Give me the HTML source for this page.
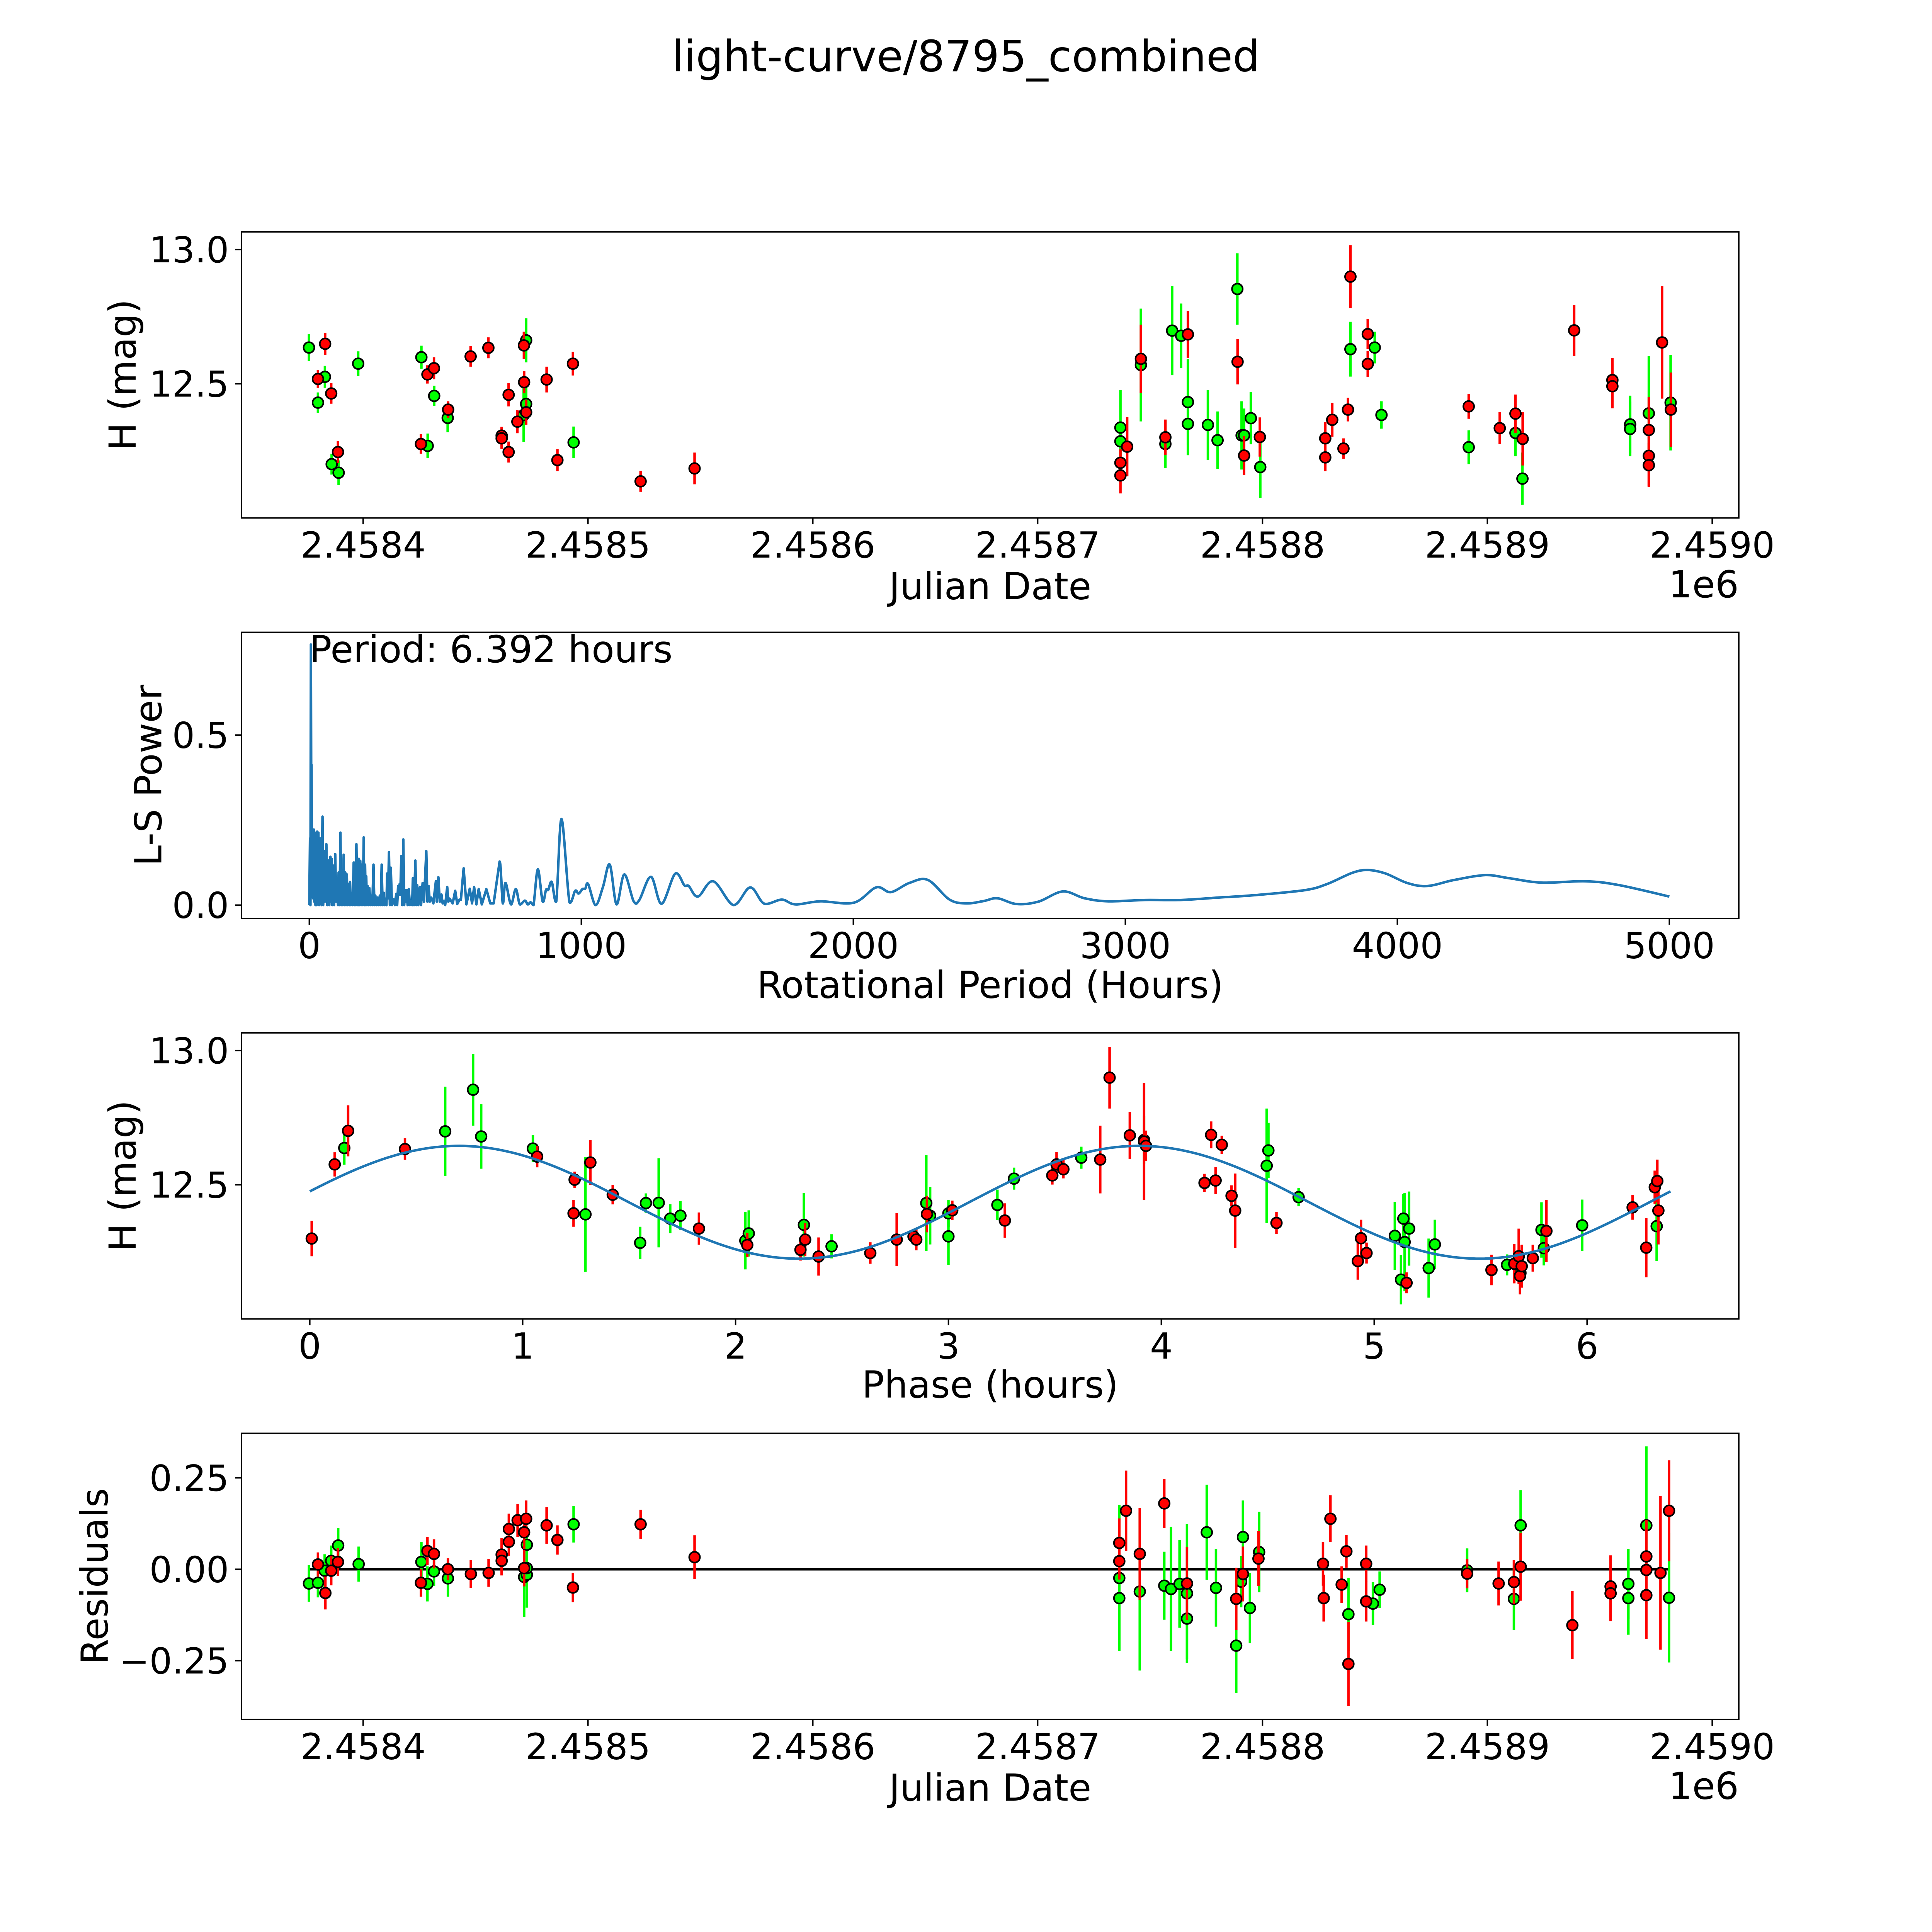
<!DOCTYPE html>
<html><head><meta charset="utf-8"><title>light-curve/8795_combined</title>
<style>html,body{margin:0;padding:0;background:#fff;overflow:hidden;width:100vw;height:100vh;}svg{display:block;width:100vw;height:100vh;}text{font-family:"DejaVu Sans","Liberation Sans",sans-serif;fill:#000;}</style>
</head><body>
<svg id="fig" xmlns="http://www.w3.org/2000/svg" viewBox="0 0 5400 5400" preserveAspectRatio="none">
<rect x="0" y="0" width="5400" height="5400" fill="#fff"/>
<text x="2700" y="199" font-size="120" text-anchor="middle">light-curve/8795_combined</text>
<g id="p1"></g>
<g id="p2"></g>
<g id="p3"></g>
<g id="p4"></g>
</svg>
<script>
// ---------- data ----------
const JD_BASE = 2458400;
// Panel 1: observations (days since JD_BASE, H mag, error)
const lcGreenDays = [-24.1,-17.0,-20.1,-2.2,-14.0,-10.9,25.9,31.6,37.6,28.7,72.5,72.5,71.4,93.6,336.8,336.8,345.9,356.8,359.8,363.8,366.8,366.8,375.7,380.0,388.8,390.7,391.8,394.8,399.0,439.1,449.9,452.9,491.7,512.5,515.6,563.5,563.5,571.8,581.5];
const lcGreenMag = [12.635,12.526,12.430,12.575,12.201,12.169,12.599,12.455,12.373,12.269,12.662,12.425,12.384,12.282,12.337,12.286,12.570,12.276,12.698,12.679,12.432,12.351,12.347,12.290,12.853,12.308,12.308,12.372,12.190,12.629,12.635,12.384,12.264,12.317,12.147,12.349,12.332,12.390,12.430];
const lcGreenErr = [0.051,0.041,0.038,0.046,0.039,0.046,0.043,0.038,0.053,0.046,0.082,0.065,0.10,0.059,0.14,0.05,0.21,0.09,0.166,0.12,0.16,0.117,0.13,0.107,0.133,0.127,0.10,0.097,0.114,0.102,0.059,0.051,0.063,0.087,0.097,0.107,0.102,0.214,0.178];
const lcRedDays = [-16.9,-20.1,-14.2,-11.2,28.6,31.5,37.8,25.7,47.8,55.7,71.5,71.6,64.7,72.5,68.6,61.6,61.6,64.7,81.6,93.3,86.4,123.4,147.4,336.8,336.8,339.8,345.9,356.8,366.8,388.9,391.8,398.8,427.9,427.9,431.0,436.0,439.1,438.0,446.8,446.8,491.7,505.5,512.5,515.7,538.6,555.6,555.6,571.8,571.8,571.8,577.7,581.6];
const lcRedMag = [12.649,12.518,12.464,12.246,12.535,12.558,12.404,12.276,12.602,12.634,12.643,12.506,12.459,12.394,12.359,12.307,12.297,12.246,12.516,12.575,12.216,12.137,12.185,12.206,12.159,12.266,12.593,12.301,12.684,12.582,12.233,12.302,12.297,12.226,12.366,12.259,12.899,12.404,12.685,12.574,12.416,12.335,12.389,12.295,12.699,12.514,12.491,12.328,12.232,12.197,12.654,12.404];
const lcRedErr = [0.041,0.033,0.038,0.041,0.034,0.041,0.031,0.036,0.038,0.039,0.051,0.041,0.043,0.046,0.043,0.033,0.039,0.039,0.048,0.044,0.041,0.039,0.059,0.05,0.067,0.11,0.127,0.066,0.087,0.084,0.073,0.073,0.061,0.051,0.063,0.038,0.117,0.044,0.056,0.049,0.046,0.059,0.071,0.099,0.095,0.082,0.082,0.122,0.112,0.082,0.209,0.138];
// Panel 2: periodogram (hours, power)
const lsPeriod = [0,2.5,4.2,5.9,7.5,8.4,10,10.9,13.4,16.7,18.4,20.1,22.6,25.1,26.8,28.5,31,33.5,36,39.3,41,42.7,45.2,48.5,51,54.4,56.9,62.8,66.1,71.1,73.6,77.8,80.3,82,84.5,87.9,91.2,95.4,98.7,102.1,105.4,107.9,111.3,114.6,117.2,120.5,123,126.4,128.9,132.2,134.7,138.1,140.6,143.9,147.3,149.8,152.3,154.8,159,163.2,165.7,168.2,170.7,173.2,175.7,177.4,179.9,182.4,184.9,187.4,190,192.5,196.7,200,202.5,205,207.5,209.2,211.7,214.2,217.6,220.9,224.3,227.6,231.8,236,239.3,242.7,246.9,251,255.2,259.4,262.8,266.1,269.4,273.6,277,280.3,283.7,286.2,289.5,292.9,296.2,299.6,303.8,309.6,314.6,319.7,323,326.4,329.7,332.2,334.7,338.1,341.4,345.6,349,351.5,354.8,358.2,361.5,365.7,369.9,374.9,378.3,380.8,385,390,393.3,396.6,400.8,406.7,410.9,416.7,421.7,430.1,434.3,438.5,442.7,448.5,456,465.3,468.6,474.5,479.5,485.8,490.4,493.7,499.6,507.1,511.3,515.5,527.2,536.4,543.9,552.3,557.3,567.4,577.4,589.9,598.3,605.9,614.2,622.6,634.3,651,665.3,677.8,699.6,711.3,721.3,741.4,759,774,792.4,803.3,813.4,824.3,840.2,857.7,870.3,878.6,891.2,907.9,927.2,956.5,977.4,990,1004.2,1014.2,1025.1,1052.7,1079.5,1104.6,1129.7,1158.1,1192.4,1213.4,1256,1295,1345,1379,1395,1429,1485,1560,1621,1673,1737,1787,1878,2002,2084,2138,2206,2274,2354,2417,2480,2530,2600,2680,2770,2850,2938,3072,3206,3340,3474,3661,3742,3835,3892,3956,4036,4110,4210,4324,4411,4531,4692,4813,5000];
const lsPower = [0,0.196,0,0.766,0.2,0.412,0.05,0.224,0.02,0.222,0.01,0.187,0,0.213,0,0.216,0.02,0.213,0,0.196,0.02,0.193,0,0.260,0,0.159,0.01,0.179,0,0.131,0,0.142,0.01,0.136,0,0.116,0,0.150,0.01,0.079,0,0.096,0,0.213,0,0.102,0,0.148,0,0.096,0,0.090,0,0.062,0,0.068,0,0.034,0,0.125,0,0.125,0,0.179,0,0.119,0,0.136,0,0.130,0,0.119,0,0.199,0,0.119,0,0.085,0,0.056,0,0.050,0,0.028,0,0.119,0,0.028,0,0.022,0,0.028,0,0.119,0,0.036,0,0.011,0,0.093,0.02,0.156,0,0.110,0,0.017,0,0.033,0,0.056,0.03,0.062,0.03,0.144,0,0.193,0,0.044,0.01,0.044,0,0.047,0,0.011,0,0.079,0,0.131,0,0.059,0,0.053,0,0.065,0.01,0.159,0.01,0.056,0.01,0.022,0.005,0.07,0.01,0.082,0.01,0.031,0.005,0.011,0,0.053,0.01,0.019,0.005,0.042,0.003,0.016,0.015,0.108,0.002,0.048,0.005,0.053,0.002,0.047,0.002,0.047,0.005,0.005,0.128,0.005,0.065,0.002,0.047,0.002,0.013,0.002,0.008,0,0.105,0.011,0.045,0.045,0.068,0.011,0.253,0.008,0.042,0.034,0.047,0.048,0.062,0,0.053,0.119,0.002,0.090,0.011,0.015,0.083,0.004,0.092,0.058,0.056,0.025,0.07,0,0.052,0.004,0.016,0.002,0.011,0.007,0.052,0.038,0.065,0.074,0.016,0.005,0.012,0.02,0.003,0.01,0.04,0.02,0.011,0.015,0.015,0.022,0.029,0.044,0.062,0.095,0.103,0.093,0.065,0.056,0.074,0.088,0.079,0.066,0.070,0.059,0.025];
const bestPeriodLabel = "Period: 6.392 hours";
// Panel 3: phase-folded (hours, mag, err)
const phGreenPhase = [0.162,0.636,0.767,0.805,1.048,1.295,1.552,1.579,1.639,1.693,1.741,2.046,2.062,2.321,2.451,2.896,2.914,3.0,3.0,3.230,3.308,3.624,3.919,4.495,4.503,4.645,5.097,5.137,5.143,5.126,5.164,5.285,5.256,5.624,5.687,5.786,5.797,5.977,6.327];
const phGreenMag = [12.637,12.699,12.854,12.680,12.635,12.390,12.284,12.432,12.433,12.374,12.385,12.292,12.319,12.351,12.271,12.432,12.385,12.394,12.308,12.425,12.523,12.601,12.667,12.571,12.628,12.454,12.310,12.374,12.287,12.147,12.337,12.278,12.190,12.202,12.172,12.332,12.264,12.349,12.346];
const phGreenErr = [0.062,0.166,0.134,0.12,0.05,0.214,0.06,0.036,0.166,0.054,0.054,0.107,0.086,0.118,0.045,0.178,0.107,0.05,0.107,0.057,0.041,0.041,0.09,0.213,0.103,0.034,0.126,0.092,0.183,0.092,0.138,0.092,0.11,0.039,0.046,0.103,0.064,0.096,0.13];
const phRedPhase = [0.009,0.117,0.180,0.447,1.068,1.244,1.318,1.239,1.423,1.828,2.055,2.305,2.327,2.390,2.633,2.757,2.836,2.849,2.899,3.018,3.265,3.488,3.508,3.540,3.713,3.757,3.852,3.919,3.928,4.203,4.234,4.255,4.284,4.330,4.347,4.541,4.923,4.938,4.964,5.152,5.551,5.658,5.679,5.685,5.693,5.745,5.809,6.214,6.278,6.318,6.330,6.335];
const phRedMag = [12.300,12.576,12.701,12.633,12.605,12.519,12.583,12.394,12.463,12.337,12.276,12.258,12.296,12.233,12.246,12.296,12.308,12.296,12.391,12.405,12.367,12.535,12.576,12.558,12.594,12.899,12.684,12.661,12.645,12.507,12.686,12.516,12.649,12.459,12.404,12.358,12.216,12.301,12.246,12.135,12.183,12.206,12.234,12.161,12.197,12.227,12.328,12.416,12.266,12.491,12.514,12.404];
const phRedErr = [0.066,0.045,0.095,0.04,0.04,0.03,0.084,0.05,0.036,0.06,0.045,0.04,0.062,0.071,0.04,0.098,0.027,0.04,0.068,0.036,0.064,0.034,0.046,0.034,0.126,0.115,0.087,0.218,0.057,0.034,0.05,0.05,0.034,0.039,0.138,0.041,0.069,0.069,0.039,0.039,0.057,0.073,0.103,0.069,0.08,0.05,0.115,0.046,0.11,0.062,0.08,0.126];
// model sinusoid parameters [mean mag, amplitude, peak phase, half period]
const modelParams = [12.435, 0.21, 0.70, 3.196];
const modelPeriod = 6.392;
// Panel 4: residuals (days since JD_BASE, residual, err)
const resGreenDays = [-24.1,-20.1,-17.1,-14.2,-11.1,-2.0,25.9,28.6,31.5,37.7,72.8,71.6,72.8,72.8,93.6,336.3,336.3,345.4,356.3,359.3,363.1,366.4,366.4,375.2,379.3,388.3,390.5,391.3,394.4,398.5,438.2,449.1,452.1,491,511.8,514.8,562.7,562.7,570.7,580.8];
const resGreenVal = [-0.039,-0.037,-0.004,0.023,0.065,0.014,0.020,-0.040,-0.006,-0.025,0.067,-0.021,-0.015,0.003,0.123,-0.024,-0.079,-0.061,-0.045,-0.054,-0.040,-0.066,-0.135,0.101,-0.051,-0.209,-0.034,0.088,-0.106,0.047,-0.123,-0.094,-0.056,-0.003,-0.081,0.120,-0.040,-0.079,0.120,-0.078];
const resGreenErr = [0.05,0.04,0.045,0.042,0.048,0.048,0.055,0.048,0.04,0.05,0.05,0.11,0.09,0.05,0.05,0.2,0.14,0.216,0.093,0.17,0.12,0.19,0.11,0.13,0.106,0.13,0.07,0.1,0.096,0.11,0.1,0.059,0.05,0.06,0.085,0.096,0.096,0.1,0.216,0.177];
const resRedDays = [-20.1,-16.8,-14.2,-11.2,25.7,28.6,31.5,37.7,47.9,55.8,61.6,61.6,64.8,64.8,68.7,72.5,71.6,71.6,86.4,81.6,93.3,123.4,147.4,336.3,336.3,339.3,345.4,356.3,366.4,388.3,391.3,398.2,426.9,427.2,430.2,435.2,437.3,438.2,446.1,446.1,491.0,505.0,511.8,514.8,537.8,554.8,554.8,570.7,570.7,570.7,577.0,580.8];
const resRedVal = [0.013,-0.065,-0.004,0.020,-0.037,0.050,0.042,0.000,-0.013,-0.010,0.040,0.023,0.110,0.075,0.134,0.138,0.101,0.003,0.08,0.12,-0.05,0.123,0.033,0.072,0.022,0.160,0.042,0.180,-0.039,-0.081,-0.013,0.029,0.015,-0.079,0.138,-0.042,0.049,-0.259,0.015,-0.088,-0.012,-0.039,-0.035,0.007,-0.153,-0.047,-0.066,0.035,-0.002,-0.071,-0.010,0.160];
const resRedErr = [0.033,0.045,0.04,0.038,0.038,0.038,0.04,0.03,0.038,0.038,0.045,0.04,0.042,0.038,0.045,0.05,0.045,0.05,0.04,0.05,0.04,0.04,0.06,0.067,0.05,0.11,0.126,0.067,0.1,0.085,0.075,0.075,0.06,0.064,0.064,0.05,0.045,0.115,0.05,0.055,0.04,0.06,0.06,0.093,0.093,0.085,0.076,0.1,0.05,0.12,0.21,0.138];
// ticks
const jdTicks = [2458400,2458500,2458600,2458700,2458800,2458900,2459000];
const jdTickLabels = ["2.4584","2.4585","2.4586","2.4587","2.4588","2.4589","2.4590"];
const magTicks = [12.5,13.0];
const magTickLabels = ["12.5","13.0"];
const periodTicks = [0,1000,2000,3000,4000,5000];
const powerTicks = [0.0,0.5];
const powerTickLabels = ["0.0","0.5"];
const phaseTicks = [0,1,2,3,4,5,6];
const resTicks = [-0.25,0,0.25];
const resTickLabels = ["\u22120.25","0.00","0.25"];

// ---------- layout ----------
const NS = "http://www.w3.org/2000/svg";
const AX_L = 675, AX_R = 4860, AX_H = 799.6;
const TOPS = [648, 1767.4, 2886.8, 4006.2];
const xJD = jd => 1015 + (jd - JD_BASE) * 6.2845;
const yMag1 = m => 697.4 + (13 - m) * 750.8;
const yMag3 = m => 697.4 + 2238.8 + (13 - m) * 750.8;
const xPer = p => 864.5 + p * 0.76028;
const yPow = w => 2529.7 - w * 950.6;
const xPh = ph => 865.9 + ph * 595;
const yRes = r => 4386.1 - r * 1022;

function mk(tag, attrs, parent){
  const el = document.createElementNS(NS, tag);
  for (const k in attrs) el.setAttribute(k, attrs[k]);
  parent.appendChild(el);
  return el;
}
function frame(g, top, name){
  const r = mk('rect', {x:AX_L, y:top, width:AX_R-AX_L, height:AX_H, fill:'none', stroke:'#000', 'stroke-width':4}, g);
  
  
}
function xTick(g, x, bottom, label, name){
  const l = mk('line', {x1:x, x2:x, y1:bottom, y2:bottom+17.5, stroke:'#000', 'stroke-width':4}, g);
  
  
  const t = mk('text', {x:x, y:bottom+111, 'font-size':100, 'text-anchor':'middle'}, g);
  t.textContent = label;
  
  
}
function yTick(g, y, label, name){
  const l = mk('line', {x1:AX_L-17.5, x2:AX_L, y1:y, y2:y, stroke:'#000', 'stroke-width':4}, g);
  
  
  const t = mk('text', {x:AX_L-35, y:y+36, 'font-size':100, 'text-anchor':'end'}, g);
  t.textContent = label;
  
  
}
function label(g, x, y, txt, name, rot, anchor){
  const t = mk('text', {x:x, y:y, 'font-size':104, 'text-anchor':anchor||'middle'}, g);
  if (rot) t.setAttribute('transform', 'rotate(-90 ' + x + ' ' + y + ')');
  t.textContent = txt;
  
  
}
function errPoints(g, xs, ys, es, fx, fy, color, name){
  const eg = mk('g', {}, g);
  
  
  for (let i = 0; i < xs.length; i++){
    const l = mk('line', {x1:fx(xs[i]), x2:fx(xs[i]), y1:fy(ys[i]-es[i]), y2:fy(ys[i]+es[i]), stroke:color, 'stroke-width':7}, eg);
    
    
  }
  const pg = mk('g', {}, g);
  
  
  for (let i = 0; i < xs.length; i++){
    const c = mk('circle', {cx:fx(xs[i]), cy:fy(ys[i]), r:15, fill:color, stroke:'#000', 'stroke-width':4.5}, pg);
    
    
  }
}
const days = arr => arr.map(d => JD_BASE + d);

// ---------- panel 1 ----------
const g1 = document.getElementById('p1');
{
  const top = TOPS[0], bottom = top + AX_H;
  jdTicks.forEach((t,i) => xTick(g1, xJD(t), bottom, jdTickLabels[i], 'lc-x'));
  magTicks.forEach((t,i) => yTick(g1, yMag1(t), magTickLabels[i], 'lc-y'));
  errPoints(g1, days(lcGreenDays), lcGreenMag, lcGreenErr, xJD, yMag1, '#00ff00', 'lc-green');
  errPoints(g1, days(lcRedDays), lcRedMag, lcRedErr, xJD, yMag1, '#ff0000', 'lc-red');
  frame(g1, top, 'lc');
  label(g1, (AX_L+AX_R)/2, bottom+227, 'Julian Date', 'lc-x-axis-title');
  label(g1, AX_R, bottom+222, '1e6', 'lc-x-offset-text', false, 'end');
  label(g1, 379, top+AX_H/2, 'H (mag)', 'lc-y-axis-title', true);
}
// ---------- panel 2 ----------
const g2 = document.getElementById('p2');
{
  const top = TOPS[1], bottom = top + AX_H;
  periodTicks.forEach(t => xTick(g2, xPer(t), bottom, String(t), 'ls-x'));
  powerTicks.forEach((t,i) => yTick(g2, yPow(t), powerTickLabels[i], 'ls-y'));
  const P = lsPeriod.map((p,i) => [xPer(p), yPow(lsPower[i])]);
  let d = 'M' + P[0][0].toFixed(1) + ' ' + P[0][1].toFixed(1);
  for (let i = 1; i < P.length; i++){
    if (lsPeriod[i-1] < 690){
      d += 'L' + P[i][0].toFixed(1) + ' ' + P[i][1].toFixed(1);
    } else {
      const p0 = P[Math.max(0,i-2)], p1 = P[i-1], p2 = P[i], p3 = P[Math.min(P.length-1,i+1)];
      const c1x = p1[0] + (p2[0]-p0[0])/6, c1y = p1[1] + (p2[1]-p0[1])/6;
      const c2x = p2[0] - (p3[0]-p1[0])/6, c2y = p2[1] - (p3[1]-p1[1])/6;
      d += 'C' + c1x.toFixed(1) + ' ' + Math.min(c1y, yPow(0)).toFixed(1) + ' ' + c2x.toFixed(1) + ' ' + Math.min(c2y, yPow(0)).toFixed(1) + ' ' + p2[0].toFixed(1) + ' ' + p2[1].toFixed(1);
    }
  }
  const p = mk('path', {d:d, fill:'none', stroke:'#1f77b4', 'stroke-width':7, 'stroke-linejoin':'round'}, g2);
  
  
  frame(g2, top, 'ls');
  label(g2, xPer(0), 1851, bestPeriodLabel, 'best-period-annotation', false, 'start');
  label(g2, (AX_L+AX_R)/2, bottom+222, 'Rotational Period (Hours)', 'ls-x-axis-title');
  label(g2, 451, top+AX_H/2, 'L-S Power', 'ls-y-axis-title', true);
}
// ---------- panel 3 ----------
const g3 = document.getElementById('p3');
{
  const top = TOPS[2], bottom = top + AX_H;
  phaseTicks.forEach(t => xTick(g3, xPh(t), bottom, String(t), 'phase-x'));
  magTicks.forEach((t,i) => yTick(g3, yMag3(t), magTickLabels[i], 'phase-y'));
  let d = '';
  const N = 300;
  for (let i = 0; i <= N; i++){
    const ph = modelPeriod * i / N;
    const m = modelParams[0] + modelParams[1] * Math.cos(2*Math.PI*(ph - modelParams[2]) / modelParams[3]);
    d += (i ? 'L' : 'M') + xPh(ph).toFixed(1) + ' ' + yMag3(m).toFixed(1);
  }
  errPoints(g3, phGreenPhase, phGreenMag, phGreenErr, xPh, yMag3, '#00ff00', 'phase-green');
  errPoints(g3, phRedPhase, phRedMag, phRedErr, xPh, yMag3, '#ff0000', 'phase-red');
  const p = mk('path', {d:d, fill:'none', stroke:'#1f77b4', 'stroke-width':7}, g3);
  
  
  frame(g3, top, 'phase');
  label(g3, (AX_L+AX_R)/2, bottom+220, 'Phase (hours)', 'phase-x-axis-title');
  label(g3, 379, top+AX_H/2, 'H (mag)', 'phase-y-axis-title', true);
}
// ---------- panel 4 ----------
const g4 = document.getElementById('p4');
{
  const top = TOPS[3], bottom = top + AX_H;
  jdTicks.forEach((t,i) => xTick(g4, xJD(t), bottom, jdTickLabels[i], 'res-x'));
  resTicks.forEach((t,i) => yTick(g4, yRes(t), resTickLabels[i], 'res-y'));
  const allDays = resGreenDays.concat(resRedDays);
  const z = mk('line', {x1:xJD(JD_BASE+Math.min(...allDays)), x2:xJD(JD_BASE+Math.max(...allDays)), y1:yRes(0), y2:yRes(0), stroke:'#000', 'stroke-width':7}, g4);
  
  
  errPoints(g4, days(resGreenDays), resGreenVal, resGreenErr, xJD, yRes, '#00ff00', 'res-green');
  errPoints(g4, days(resRedDays), resRedVal, resRedErr, xJD, yRes, '#ff0000', 'res-red');
  frame(g4, top, 'res');
  label(g4, (AX_L+AX_R)/2, bottom+227, 'Julian Date', 'res-x-axis-title');
  label(g4, AX_R, bottom+222, '1e6', 'res-x-offset-text', false, 'end');
  label(g4, 301, top+AX_H/2, 'Residuals', 'res-y-axis-title', true);
}
</script>
</body></html>
